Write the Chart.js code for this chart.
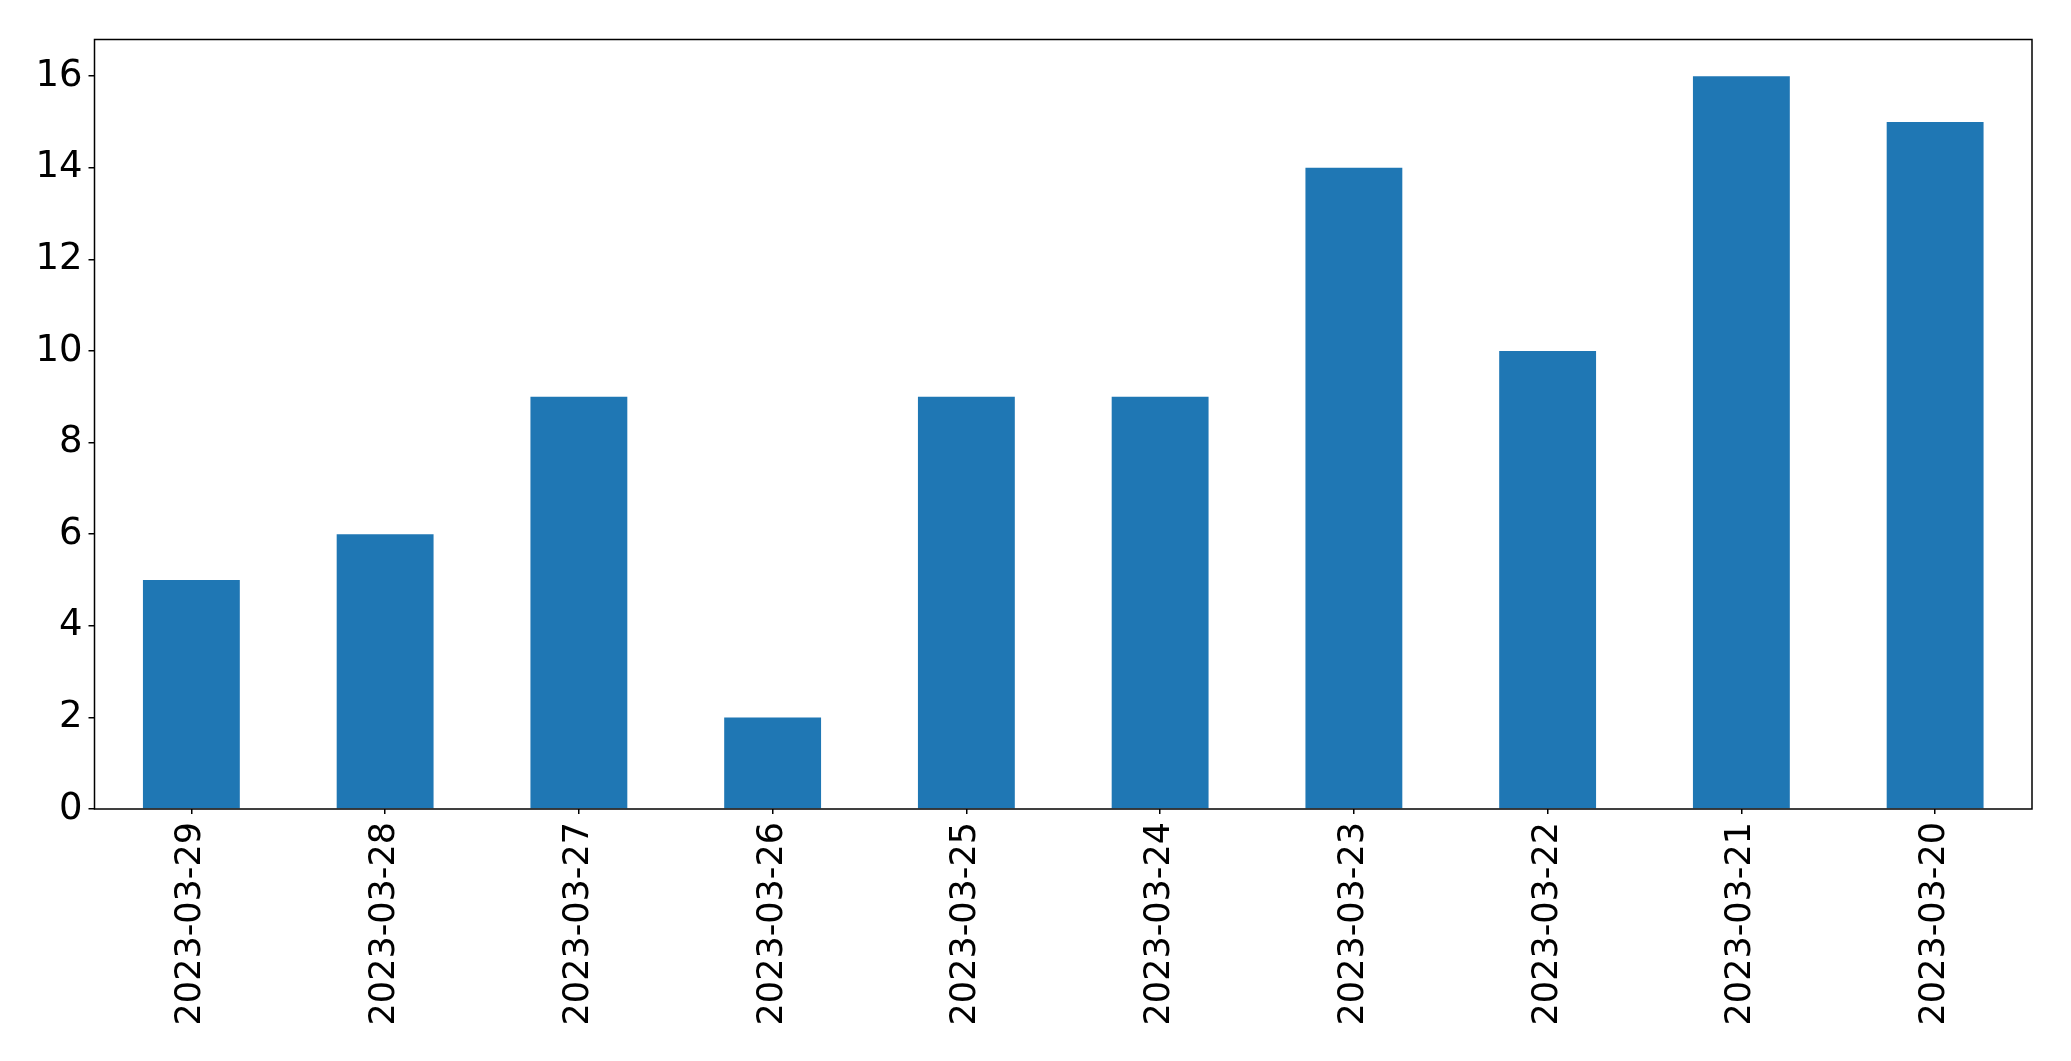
<!DOCTYPE html>
<html>
<head>
<meta charset="utf-8">
<script src="https://cdn.jsdelivr.net/npm/chart.js@4/dist/chart.umd.min.js"></script>
<style>
  html, body { margin: 0; padding: 0; background: #fff; }
  #wrap { width: 2071px; height: 1061px; position: relative; }
</style>
</head>
<body>
<div id="wrap"><canvas id="barChart"></canvas></div>
<script>
"use strict";
const dates = ['2023-03-29', '2023-03-28', '2023-03-27', '2023-03-26', '2023-03-25',
               '2023-03-24', '2023-03-23', '2023-03-22', '2023-03-21', '2023-03-20'];
const counts = [5, 6, 9, 2, 9, 9, 14, 10, 16, 15];
const yTicks = [0, 2, 4, 6, 8, 10, 12, 14, 16];

const tickFont = { family: 'DejaVu Sans', size: 35 };

// draw the box round the plot like matplotlib does
const frame = {
    id: 'frame',
    afterDatasetsDraw(chart) {
        const a = chart.chartArea;
        const ctx = chart.ctx;
        ctx.save();
        ctx.strokeStyle = '#000';
        ctx.lineWidth = 1.5;
        ctx.strokeRect(a.left, a.top, a.right - a.left, a.bottom - a.top);
        ctx.restore();
    }
};

function initializeChart() {
    const ctx = document.getElementById('barChart').getContext('2d');
    new Chart(ctx, {
        type: 'bar',
        data: {
            labels: dates,
            datasets: [{
                data: counts,
                backgroundColor: '#1f77b4',
                borderWidth: 0,
                barPercentage: 0.5,
                categoryPercentage: 1.0
            }]
        },
        options: {
            responsive: true,
            maintainAspectRatio: false,
            animation: false,
            layout: { padding: { top: 39.5, right: 39, left: 0, bottom: 0 } },
            plugins: { legend: { display: false }, tooltip: { enabled: false } },
            scales: {
                x: {
                    afterFit: s => { s.height = 252; },
                    grid: { offset: false, drawOnChartArea: false, drawTicks: true, tickLength: 5, tickColor: '#000', lineWidth: 1.5 },
                    border: { display: false },
                    ticks: { color: '#000', font: tickFont, minRotation: 90, maxRotation: 90, padding: 8, autoSkip: false }
                },
                y: {
                    min: 0,
                    max: 16.8,
                    afterFit: s => { s.width = 94.5; },
                    afterBuildTicks: s => { s.ticks = yTicks.map(v => ({ value: v })); },
                    grid: { drawOnChartArea: false, drawTicks: true, tickLength: 6, tickColor: '#000', lineWidth: 1.5 },
                    border: { display: false },
                    ticks: { color: '#000', font: { family: 'DejaVu Sans', size: 37 }, padding: 6 }
                }
            }
        },
        plugins: [frame]
    });
}
initializeChart();
</script>
</body>
</html>
